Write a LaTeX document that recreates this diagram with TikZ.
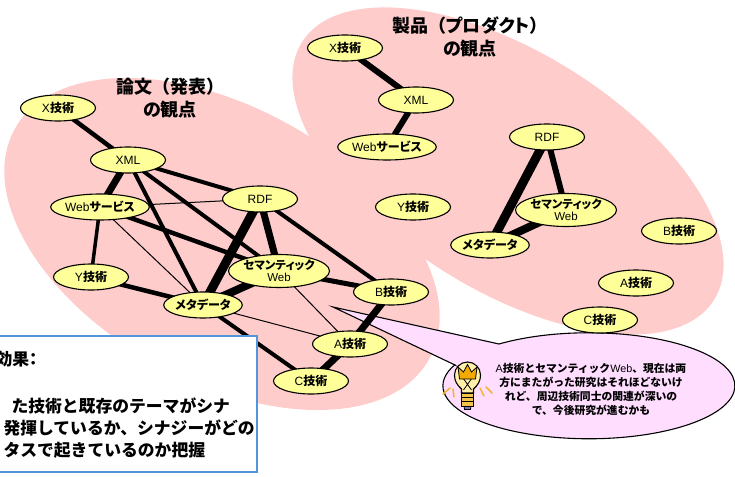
\documentclass[tikz,border=0pt]{standalone}
\usepackage{fontspec}
\setmainfont{Liberation Sans}
\newfontfamily\jp{Noto Sans CJK JP}
\newfontfamily\jpp[RawFeature=+palt]{Noto Sans CJK JP}
\usetikzlibrary{shapes.geometric}
\definecolor{pinkbg}{RGB}{255,204,204}
\definecolor{nodeyel}{RGB}{255,255,153}
\definecolor{calloutc}{RGB}{255,221,255}
\definecolor{boxblue}{RGB}{80,150,220}
\definecolor{bulbyel}{RGB}{255,240,170}
\definecolor{crownc}{RGB}{240,170,0}
\definecolor{rayc}{RGB}{245,180,40}
\definecolor{tipblue}{RGB}{120,120,200}
\pgfdeclarelayer{under}
\pgfsetlayers{under,main}
\newcommand\J[1]{{\jpp\bfseries #1}}
\newcommand\JW[1]{{\jp\bfseries #1}}
\newcommand\LT[1]{{\rmfamily\mdseries #1}}
\begin{document}
\begin{tikzpicture}[x=1pt,y=-1pt,
  tnode/.style={ellipse,draw,fill=nodeyel,line width=1.1pt,minimum width=75pt,minimum height=26pt,inner sep=0pt,font=\fontsize{12}{13}\selectfont},
  semnode/.style={tnode,minimum height=33pt,align=center,font=\fontsize{11.5}{12}\selectfont},
  titlenode/.style={align=center,font=\jpp\bfseries\fontsize{18}{23}\selectfont},
  boxtext/.style={anchor=base west,font=\jp\bfseries\fontsize{16.8}{20}\selectfont},
  rays/.style={draw=rayc,line width=1.5pt,line cap=round}
]
\useasboundingbox (0,0) rectangle (735,476);
\clip (0,0) rectangle (735,476);

% titles
\node[titlenode] (T1) at (170,98) {論文\JW{（}発表\JW{）}\\の観点};
\node[titlenode] (T2) at (470,37) {製品\JW{（}プロダクト\JW{）}\\の観点};

% left cluster
\node[tnode] (LX) at (58,108) {X\J{技術}};
\node[tnode] (LXML) at (128,160) {XML};
\node[tnode] (LWeb) at (100,207) {Web\J{サービス}};
\node[tnode] (LRDF) at (260,199) {RDF};
\node[semnode] (LSem) at (279,271) {\J{セマンティック}\\Web};
\node[tnode] (LY) at (91,277) {Y\J{技術}};
\node[tnode] (LMeta) at (203,305) {\J{メタデータ}};
\node[tnode] (LB) at (391,292) {B\J{技術}};
\node[tnode] (LA) at (350,344) {A\J{技術}};
\node[tnode] (LC) at (311,381) {C\J{技術}};

% right cluster
\node[tnode] (RX) at (345,48) {X\J{技術}};
\node[tnode] (RXML) at (416,100) {XML};
\node[tnode] (RWeb) at (387,147) {Web\J{サービス}};
\node[tnode] (RY) at (413,207) {Y\J{技術}};
\node[tnode] (RRDF) at (547,137) {RDF};
\node[semnode] (RSem) at (566,210) {\J{セマンティック}\\Web};
\node[tnode] (RMeta) at (490,245) {\J{メタデータ}};
\node[tnode] (RB) at (679,231) {B\J{技術}};
\node[tnode] (RA) at (636,283) {A\J{技術}};
\node[tnode] (RC) at (600,320) {C\J{技術}};

\begin{pgfonlayer}{under}
  \begin{scope}[shift={(222,244)},rotate=-29]
    \fill[pinkbg] (0,0) ellipse [x radius=237,y radius=137];
  \end{scope}
  \begin{scope}[shift={(508,171)},rotate=-32]
    \fill[pinkbg] (0,0) ellipse [x radius=243,y radius=119];
  \end{scope}
  % callout
  \filldraw[fill=calloutc,draw=black,line width=1.1pt] (455,365) -- (333,307) -- (499,344)
     arc[start angle=232,end angle=563.3,x radius=146,y radius=53] -- cycle;
  % left edges
  \draw[line width=4.5] (LX.center) -- (LXML.center);
  \draw[line width=7] (LXML.center) -- (LWeb.center);
  \draw[line width=4] (LXML.center) -- (LRDF.center);
  \draw[line width=4] (LXML.center) -- (LMeta.center);
  \draw[line width=4] (LXML.center) -- (LSem.center);
  \draw[line width=1] (LWeb.center) -- (LRDF.center);
  \draw[line width=4.5] (LWeb.center) -- (LSem.center);
  \draw[line width=3.5] (LWeb.center) -- (LY.center);
  \draw[line width=1] (LWeb.center) -- (LMeta.center);
  \draw[line width=4.5] (LY.center) -- (LMeta.center);
  \draw[line width=9] (LRDF.center) -- (LMeta.center);
  \draw[line width=7] (LRDF.center) -- (LSem.center);
  \draw[line width=4] (LRDF.center) -- (LB.center);
  \draw[line width=8] (LSem.center) -- (LMeta.center);
  \draw[line width=5] (LSem.center) -- (LB.center);
  \draw[line width=1] (LSem.center) -- (LA.center);
  \draw[line width=1] (LMeta.center) -- (LA.center);
  \draw[line width=4] (LMeta.center) -- (LC.center);
  \draw[line width=7] (LB.center) -- (LA.center);
  \draw[line width=7] (LA.center) -- (LC.center);
  % right edges
  \draw[line width=6] (RX.center) -- (RXML.center);
  \draw[line width=6] (RXML.center) -- (RWeb.center);
  \draw[line width=9] (RRDF.center) -- (RMeta.center);
  \draw[line width=6] (RRDF.center) -- (RSem.center);
  \draw[line width=8] (RMeta.center) -- (RSem.center);
\end{pgfonlayer}

% callout text
\node[align=center,font=\jp\bfseries\fontsize{10.8}{14}\selectfont] (CT) at (591,389)
  {\LT{A}技術とセマンティック\LT{Web}、現在は両\\方にまたがった研究はそれほどないけ\\れど、周辺技術同士の関連が深いの\\で、今後研究が進むかも};

% text box
\draw[fill=white,draw=boxblue,line width=1.5pt] (-5,336) rectangle (257,472);
\node[boxtext] (B1) at (-8,365) {効果{\jpp：}};
\node[boxtext] (B2) at (8,412) {た技術と既存のテーマがシナ};
\node[boxtext] (B3) at (0,434) {発揮しているか、シナジーがどの};
\node[boxtext] (B4) at (0,456) {タスで起きているのか把握};

% light bulb
\draw[fill=bulbyel,line width=1.1pt] (461.5,393) -- (461.5,389) .. controls (457,385) and (454.5,381) .. (454.5,375)
   arc[start angle=180,end angle=360,radius=13] .. controls (480.5,381) and (478,385) .. (473.5,389) -- (473.5,393) -- cycle;
\draw[line width=0.8pt] (463,378) -- (471.5,390) (472,378) -- (463.5,390);
\draw[fill=crownc,line width=0.8pt] (459.5,379) -- (458,367) -- (463.5,372) -- (467.5,364.5) -- (471.5,372) -- (477,367) -- (475.5,379) -- cycle;
\draw[fill=tipblue,line width=0.8pt] (464,405) -- (464.5,409.5) -- (470.5,409.5) -- (471,405) -- cycle;
\draw[fill=crownc!70,line width=1pt] (461.5,393) rectangle (473.5,406);
\draw[line width=1.2pt] (461.5,397.3) -- (473.5,397.3) (461.5,401.6) -- (473.5,401.6);
\draw[rays] (443,394) -- (450,388) (453,389) -- (454,397);
\draw[rays] (480,388) -- (484,396) (486,387) -- (492,393);
\end{tikzpicture}
\end{document}
